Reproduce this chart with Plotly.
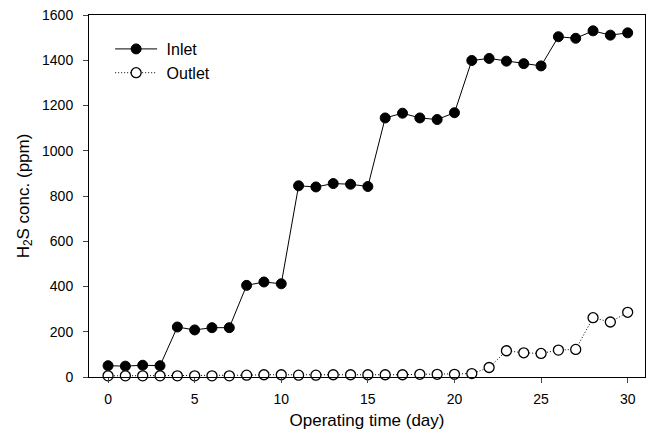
import plotly.graph_objects as go

days = list(range(31))
inlet = [50, 48, 52, 50, 221, 208, 218, 218, 405, 420, 412,
         845, 840, 855, 852, 842, 1145, 1166, 1145, 1138, 1168,
         1399, 1408, 1396, 1385, 1375, 1504, 1497, 1530, 1511, 1521]
outlet = [5, 5, 5, 5, 5, 5, 5, 5, 8, 10, 10, 8, 8, 10, 10, 10, 10, 10, 12, 12, 12, 15,
          42, 116, 107, 104, 119, 122, 262, 243, 286]

x_ticks = [0, 5, 10, 15, 20, 25, 30]
y_ticks = [0, 200, 400, 600, 800, 1000, 1200, 1400, 1600]

fig = go.Figure()
fig.add_trace(go.Scatter(
    x=days, y=inlet, name=" Inlet", mode="lines+markers",
    line=dict(color="black", width=1),
    marker=dict(symbol="circle", size=10, color="black", line=dict(color="black", width=1)),
    cliponaxis=False,
))
fig.add_trace(go.Scatter(
    x=days, y=outlet, name=" Outlet", mode="lines+markers",
    line=dict(color="black", width=1, dash="1px,2px"),
    marker=dict(symbol="circle", size=10, color="white", line=dict(color="black", width=1.3)),
    cliponaxis=False,
))

font = dict(family="Liberation Sans, Arial, sans-serif", color="black")
fig.update_layout(
    width=653, height=436,
    margin=dict(l=89, r=8, t=15, b=59),
    paper_bgcolor="white", plot_bgcolor="white",
    font=dict(size=14, **font),
    showlegend=True,
    legend=dict(x=0.038, y=0.953, xanchor="left", yanchor="top",
                bgcolor="rgba(0,0,0,0)", font=dict(size=16, **font),
                itemwidth=42, tracegroupgap=0),
)
fig.update_xaxes(
    range=[-1.1, 31], tickvals=x_ticks, ticks="outside", ticklen=5,
    showline=True, linecolor="black", linewidth=1, mirror=True,
    showgrid=False, zeroline=False, ticklabelstandoff=4,
    title=dict(text="Operating time (day)", font=dict(size=17, **font), standoff=8),
    tickfont=dict(size=14, **font),
)
fig.update_yaxes(
    range=[0, 1600], tickvals=y_ticks, ticks="outside", ticklen=5,
    showline=True, linecolor="black", linewidth=1, mirror=True,
    showgrid=False, zeroline=False, ticklabelstandoff=7,
    title=dict(text="H<sub>2</sub>S conc. (ppm)", font=dict(size=17, **font), standoff=8),
    tickfont=dict(size=14, **font),
)

fig.write_html("out.html")
